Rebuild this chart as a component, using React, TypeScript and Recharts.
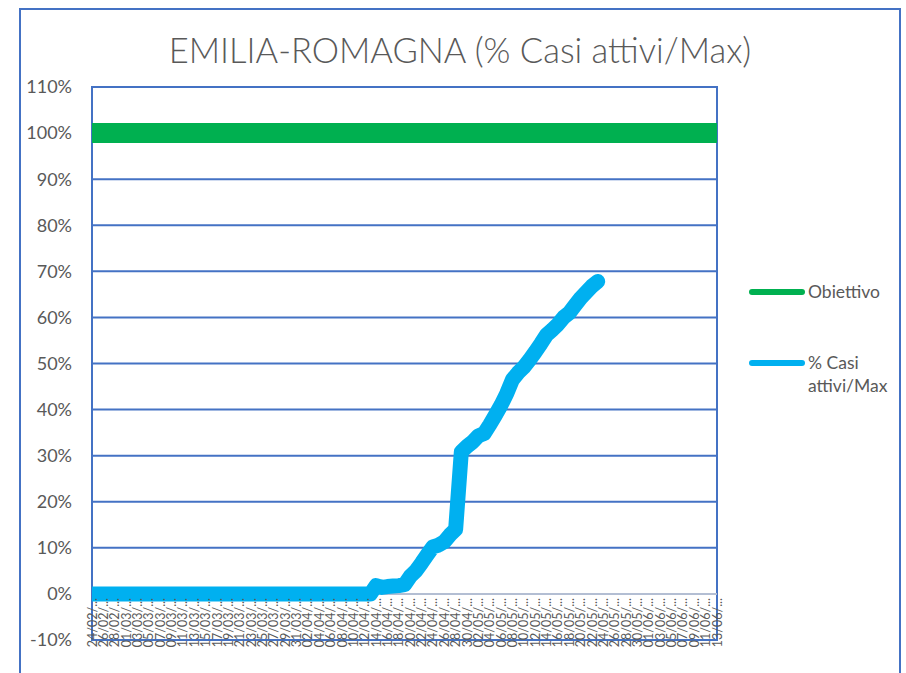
import {
  LineChart,
  Line,
  XAxis,
  YAxis,
  CartesianGrid,
  ReferenceLine,
  ReferenceArea,
} from "recharts";

// days shown on the category axis: [month, first day, last day]
const MONTH_SPANS: [string, number, number][] = [
  ["02", 24, 29],
  ["03", 1, 31],
  ["04", 1, 30],
  ["05", 1, 31],
  ["06", 1, 13],
];

const DATES: string[] = MONTH_SPANS.flatMap(([mm, from, to]) =>
  Array.from({ length: to - from + 1 }, (_, k) => `${String(from + k).padStart(2, "0")}/${mm}/2020`)
);

const OBIETTIVO = 1;

// % casi attivi / max, from 24/02 to 23/05
const CASI_ATTIVI: number[] = [
  0, 0, 0, 0, 0, 0, 0, 0, 0, 0,
  0, 0, 0, 0, 0, 0, 0, 0, 0, 0,
  0, 0, 0, 0, 0, 0, 0, 0, 0, 0,
  0, 0, 0, 0, 0, 0, 0, 0, 0, 0,
  0, 0, 0, 0, 0, 0, 0, 0, 0, 0,
  0.018, 0.014, 0.016, 0.017, 0.018, 0.02, 0.038, 0.05, 0.067, 0.085,
  0.102, 0.106, 0.113, 0.128, 0.14, 0.308, 0.32, 0.33, 0.343, 0.348,
  0.367, 0.388, 0.41, 0.435, 0.465, 0.48, 0.492, 0.508, 0.525, 0.543,
  0.562, 0.573, 0.585, 0.6, 0.61, 0.626, 0.642, 0.655, 0.668, 0.678,
];

const Y_TICKS = [-0.1, 0, 0.1, 0.2, 0.3, 0.4, 0.5, 0.6, 0.7, 0.8, 0.9, 1, 1.1];

const SERIES = [
  { key: "obiettivo", name: "Obiettivo", color: "#00B050" },
  { key: "casi", name: "% Casi attivi/Max", color: "#00B0F0" },
];

const data = DATES.map((date, i) => ({
  date,
  obiettivo: OBIETTIVO,
  casi: i < CASI_ATTIVI.length ? CASI_ATTIVI[i] : null,
}));

const FONT = "Lato, 'Open Sans', sans-serif";
const GREY = "#595959";
const BLUE = "#4472C4";

const DateTick = ({ x, y, payload }: { x?: number; y?: number; payload?: { value: string } }) => {
  if (x == null || y == null || !payload) return null;
  const [dd, mm] = payload.value.split("/");
  // labels sit just under the 0% line, reading bottom to top
  const ty = y - 42;
  return (
    <text
      x={x}
      y={ty}
      transform={`rotate(-90, ${x}, ${ty})`}
      textAnchor="end"
      dominantBaseline="central"
      fontSize={12.5}
      fontFamily={FONT}
      fill={GREY}
    >
      {`${dd}/${mm}/...`}
    </text>
  );
};

export default function App() {
  return (
    <div
      style={{
        position: "relative",
        width: 906,
        height: 673,
        background: "#fff",
        overflow: "hidden",
        fontFamily: FONT,
      }}
    >
      <style>{`body { margin: 0; }`}</style>

      {/* chart frame */}
      <div
        style={{
          position: "absolute",
          left: 19,
          top: 8,
          width: 878,
          height: 700,
          border: `2px solid ${BLUE}`,
        }}
      />

      <div
        style={{
          position: "absolute",
          left: 20,
          top: 30,
          width: 880,
          textAlign: "center",
          fontSize: 34.5,
          fontWeight: 300,
          lineHeight: "40px",
          color: GREY,
        }}
      >
        EMILIA-ROMAGNA (% Casi attivi/Max)
      </div>

      <div style={{ position: "absolute", left: 0, top: 0 }}>
        <LineChart
          width={906}
          height={673}
          data={data}
          margin={{ top: 87, right: 189, bottom: 3, left: 20 }}
        >
          <CartesianGrid vertical={false} stroke={BLUE} strokeWidth={2} />
          <ReferenceLine y={0} stroke="#D9D9D9" strokeWidth={1.5} />
          <ReferenceArea
            x1={DATES[0]}
            x2={DATES[DATES.length - 1]}
            y1={-0.1}
            y2={1.1}
            fill="none"
            fillOpacity={0}
            stroke={BLUE}
            strokeWidth={2}
          />
          <XAxis
            dataKey="date"
            interval={1}
            height={30}
            tickSize={0}
            tickMargin={0}
            axisLine={false}
            tickLine={false}
            allowDataOverflow
            tick={<DateTick />}
          />
          <YAxis
            domain={[-0.1, 1.1]}
            ticks={Y_TICKS}
            allowDataOverflow
            width={72}
            axisLine={false}
            tickLine={false}
            tickSize={6}
            tickMargin={14}
            tick={{ fontSize: 18, fill: GREY, fontFamily: FONT }}
            tickFormatter={(v: number) => `${Math.round(v * 100)}%`}
          />
          <Line
            dataKey="obiettivo"
            name="Obiettivo"
            stroke="#00B050"
            strokeWidth={20}
            strokeLinecap="butt"
            dot={false}
            activeDot={false}
            isAnimationActive={false}
          />
          <Line
            dataKey="casi"
            name="% Casi attivi/Max"
            stroke="#00B0F0"
            strokeWidth={15}
            strokeLinecap="round"
            strokeLinejoin="round"
            dot={false}
            activeDot={false}
            isAnimationActive={false}
          />
        </LineChart>
      </div>

      {/* legend */}
      {SERIES.map((s, i) => (
        <div
          key={s.key}
          style={{
            position: "absolute",
            left: 749,
            top: i === 0 ? 280 : 351,
            display: "flex",
            alignItems: "flex-start",
          }}
        >
          <span
            style={{
              display: "inline-block",
              width: 56,
              height: 6,
              borderRadius: 3,
              background: s.color,
              marginTop: 9,
            }}
          />
          <span
            style={{
              marginLeft: 3,
              width: 90,
              fontSize: 17.5,
              lineHeight: "23px",
              color: GREY,
            }}
          >
            {s.name}
          </span>
        </div>
      ))}
    </div>
  );
}
